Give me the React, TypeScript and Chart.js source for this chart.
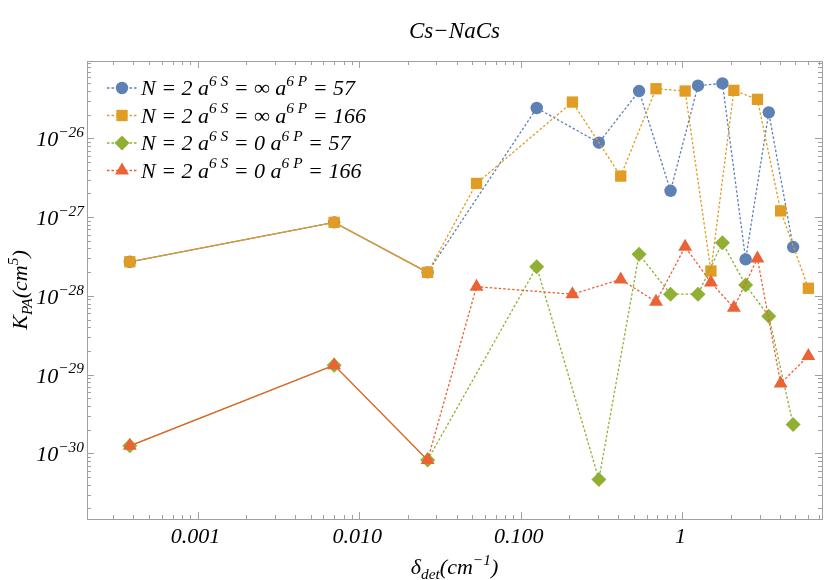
import React, { useEffect, useRef } from 'react';
import { Chart, registerables } from 'chart.js';

Chart.register(...registerables);

// ---------- data ----------
const chartTitle = 'Cs\u2212NaCs';
const xAxisTitle = '\u03b4_{det}(cm^{\u22121})';
const yAxisTitle = 'K_{PA}(cm^{5})';

const seriesLabels = [
  'N = 2 a^{6 S} = \u221e a^{6 P} = 57',
  'N = 2 a^{6 S} = \u221e a^{6 P} = 166',
  'N = 2 a^{6 S} = 0 a^{6 P} = 57',
  'N = 2 a^{6 S} = 0 a^{6 P} = 166',
];
const seriesColors = ['#5E81B5', '#E19C24', '#8FB032', '#EB6235'];
const seriesMarkers = ['circle', 'rect', 'rectRot', 'triangle'];
const markerRadius = [6.2, 8, 7.5, 8];

const x57 = [3.81e-4, 7.0e-3, 0.0265, 0.1254, 0.304, 0.539, 0.844, 1.248, 1.767, 2.46, 3.42, 4.84];
const x166 = [3.81e-4, 7.0e-3, 0.0265, 0.0532, 0.2085, 0.415, 0.686, 1.039, 1.5, 2.08, 2.91, 4.05, 6.01];

const yInf57 = [2.71e-28, 8.58e-28, 1.99e-28, 2.43e-26, 8.8e-27, 3.99e-26, 2.16e-27, 4.66e-26, 4.99e-26, 2.91e-28, 2.14e-26, 4.17e-28];
const yInf166 = [2.71e-28, 8.58e-28, 1.99e-28, 2.68e-27, 2.89e-26, 3.32e-27, 4.27e-26, 3.99e-26, 2.07e-28, 4.07e-26, 3.13e-26, 1.2e-27, 1.25e-28];
const yZero57 = [1.25e-30, 1.32e-29, 8.22e-31, 2.34e-28, 4.68e-31, 3.37e-28, 1.05e-28, 1.05e-28, 4.72e-28, 1.37e-28, 5.53e-29, 2.33e-30];
const yZero166 = [1.25e-30, 1.32e-29, 8.22e-31, 1.31e-28, 1.05e-28, 1.62e-28, 8.41e-29, 4.2e-28, 1.48e-28, 7.06e-29, 2.99e-28, 7.74e-30, 1.72e-29];

const xTickValues = [0.001, 0.01, 0.1, 1];
const xTickLabels = ['0.001', '0.010', '0.100', '1'];
const yTickExponents = [-30, -29, -28, -27, -26];

const xMin = 2.07e-4;
const xMax = 7.3;
const yMin = 1.47e-31;
const yMax = 9.6e-26;

// ---------- helpers ----------
const FONT_FAMILY = '"Liberation Serif", "DejaVu Serif", serif';
const FRAME_COLOR = '#a0a0a0';
const DASH = [2.5, 2];

type Part = { t: string; mode: 'n' | 'sup' | 'sub' };

function parseRich(s: string): Part[] {
  const parts: Part[] = [];
  let i = 0;
  let buf = '';
  while (i < s.length) {
    const c = s[i];
    if ((c === '^' || c === '_') && s[i + 1] === '{') {
      if (buf) parts.push({ t: buf, mode: 'n' });
      buf = '';
      const end = s.indexOf('}', i);
      parts.push({ t: s.slice(i + 2, end), mode: c === '^' ? 'sup' : 'sub' });
      i = end + 1;
    } else {
      buf += c;
      i++;
    }
  }
  if (buf) parts.push({ t: buf, mode: 'n' });
  return parts;
}

function fontFor(mode: string, size: number) {
  const s = mode === 'n' ? size : size * 0.7;
  return `italic ${s}px ${FONT_FAMILY}`;
}

function measureRich(ctx: CanvasRenderingContext2D, s: string, size: number) {
  let w = 0;
  for (const p of parseRich(s)) {
    ctx.font = fontFor(p.mode, size);
    w += ctx.measureText(p.t).width;
  }
  return w;
}

function drawRich(ctx: CanvasRenderingContext2D, s: string, x: number, y: number, size: number, align: 'left' | 'center' | 'right') {
  const w = measureRich(ctx, s, size);
  let cx = align === 'left' ? x : align === 'center' ? x - w / 2 : x - w;
  ctx.textAlign = 'left';
  ctx.textBaseline = 'alphabetic';
  for (const p of parseRich(s)) {
    ctx.font = fontFor(p.mode, size);
    const dy = p.mode === 'sup' ? -size * 0.42 : p.mode === 'sub' ? size * 0.24 : 0;
    ctx.fillText(p.t, cx, y + dy);
    cx += ctx.measureText(p.t).width;
  }
}

function drawMarker(ctx: CanvasRenderingContext2D, kind: string, x: number, y: number, r: number, color: string) {
  ctx.save();
  ctx.fillStyle = color;
  ctx.beginPath();
  if (kind === 'circle') {
    ctx.arc(x, y, r, 0, Math.PI * 2);
  } else if (kind === 'rect') {
    const h = r * Math.SQRT1_2;
    ctx.rect(x - h, y - h, 2 * h, 2 * h);
  } else if (kind === 'rectRot') {
    ctx.moveTo(x, y - r);
    ctx.lineTo(x + r, y);
    ctx.lineTo(x, y + r);
    ctx.lineTo(x - r, y);
    ctx.closePath();
  } else {
    for (let k = 0; k < 3; k++) {
      const a = (k * 2 * Math.PI) / 3;
      const px = x + Math.sin(a) * r;
      const py = y - Math.cos(a) * r;
      if (k === 0) ctx.moveTo(px, py);
      else ctx.lineTo(px, py);
    }
    ctx.closePath();
  }
  ctx.fill();
  ctx.restore();
}

function logTicks(min: number, max: number) {
  const out: { v: number; major: boolean }[] = [];
  const d0 = Math.floor(Math.log10(min));
  const d1 = Math.ceil(Math.log10(max));
  for (let d = d0; d <= d1; d++) {
    for (let k = 1; k <= 9; k++) {
      const v = k * Math.pow(10, d);
      if (v >= min && v <= max) out.push({ v, major: k === 1 });
    }
  }
  return out;
}

const decorPlugin = {
  id: 'mmaDecor',
  beforeDatasetsDraw(chart: any) {
    const { ctx, chartArea } = chart;
    const { left, right, top, bottom } = chartArea;
    const xs = chart.scales.x;
    const ys = chart.scales.y;
    ctx.save();
    ctx.strokeStyle = FRAME_COLOR;
    ctx.lineWidth = 1;
    ctx.strokeRect(Math.round(left) + 0.5, Math.round(top) + 0.5, Math.round(right - left), Math.round(bottom - top));
    ctx.beginPath();
    for (const t of logTicks(xMin, xMax)) {
      const px = Math.round(xs.getPixelForValue(t.v)) + 0.5;
      const len = t.major ? 7 : 4;
      ctx.moveTo(px, bottom);
      ctx.lineTo(px, bottom - len);
      ctx.moveTo(px, top);
      ctx.lineTo(px, top + len);
    }
    for (const t of logTicks(yMin, yMax)) {
      const py = Math.round(ys.getPixelForValue(t.v)) + 0.5;
      const len = t.major ? 7 : 4;
      ctx.moveTo(left, py);
      ctx.lineTo(left + len, py);
      ctx.moveTo(right, py);
      ctx.lineTo(right - len, py);
    }
    ctx.stroke();
    ctx.restore();
  },
  afterDraw(chart: any) {
    const { ctx, chartArea } = chart;
    const { left, right, top, bottom } = chartArea;
    const xs = chart.scales.x;
    const ys = chart.scales.y;
    ctx.save();
    ctx.fillStyle = '#000';
    const size = 22;
    xTickValues.forEach((v, i) => {
      drawRich(ctx, xTickLabels[i], xs.getPixelForValue(v) - 2, bottom + 24, size, 'center');
    });
    yTickExponents.forEach((e) => {
      drawRich(ctx, '10^{\u2212' + Math.abs(e) + '}', left - 3, ys.getPixelForValue(Math.pow(10, e)) + 8, size, 'right');
    });
    drawRich(ctx, xAxisTitle, (left + right) / 2, 574, size, 'center');
    ctx.save();
    ctx.translate(27, (top + bottom) / 2);
    ctx.rotate(-Math.PI / 2);
    drawRich(ctx, yAxisTitle, 0, 0, size, 'center');
    ctx.restore();
    drawRich(ctx, chartTitle, (left + right) / 2, 38, 23, 'center');
    const rows = [88, 115.5, 143, 170.5];
    seriesLabels.forEach((lab, i) => {
      const y = rows[i];
      ctx.save();
      ctx.strokeStyle = seriesColors[i];
      ctx.lineWidth = 1.3;
      ctx.setLineDash(DASH);
      ctx.beginPath();
      ctx.moveTo(107, y);
      ctx.lineTo(137, y);
      ctx.stroke();
      ctx.restore();
      drawMarker(ctx, seriesMarkers[i], 122, y, markerRadius[i], seriesColors[i]);
      ctx.fillStyle = '#000';
      drawRich(ctx, lab, 141, y + 7, size, 'left');
    });
    ctx.restore();
  },
};

function makeData(xs: number[], ys: number[]) {
  return xs.map((x, i) => ({ x, y: ys[i] }));
}

export default function App() {
  const canvasRef = useRef<HTMLCanvasElement | null>(null);
  useEffect(() => {
    const canvas = canvasRef.current;
    if (!canvas) return;
    const seriesData = [
      makeData(x57, yInf57),
      makeData(x166, yInf166),
      makeData(x57, yZero57),
      makeData(x166, yZero166),
    ];
    const datasets = seriesData.map((d, i) => ({
      label: seriesLabels[i],
      data: d,
      borderColor: seriesColors[i],
      backgroundColor: seriesColors[i],
      borderWidth: 1.3,
      borderDash: DASH,
      segment: {
        borderDash: (c: any) => (c.p0DataIndex < 2 ? [] : DASH),
      },
      pointStyle: seriesMarkers[i],
      pointRadius: markerRadius[i],
      pointBorderWidth: 0,
      pointBackgroundColor: seriesColors[i],
      tension: 0,
      fill: false,
      order: 3 - i,
    }));
    const chart = new Chart(canvas, {
      type: 'line',
      data: { datasets },
      options: {
        responsive: false,
        animation: false,
        layout: { padding: { left: 87, right: 2, top: 61, bottom: 61 } },
        plugins: { legend: { display: false }, tooltip: { enabled: false }, title: { display: false } },
        scales: {
          x: { type: 'logarithmic', min: xMin, max: xMax, display: false },
          y: { type: 'logarithmic', min: yMin, max: yMax, display: false },
        },
      },
      plugins: [decorPlugin],
    } as any);
    return () => chart.destroy();
  }, []);
  return (
    <div style={{ position: 'absolute', left: 0, top: 0, width: 830, height: 580, background: '#fff' }}>
      <canvas ref={canvasRef} width={830} height={580} style={{ display: 'block' }} />
    </div>
  );
}
